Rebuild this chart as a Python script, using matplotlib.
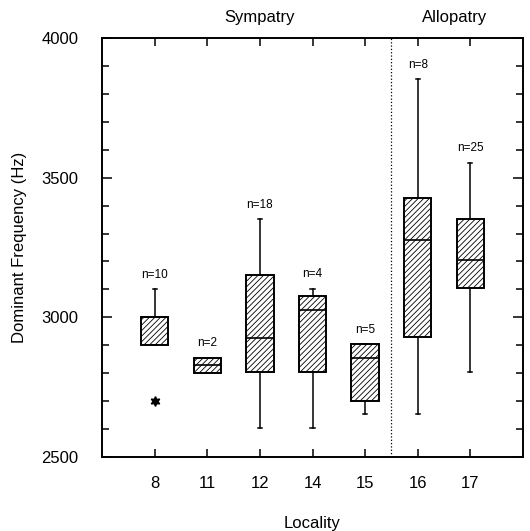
import matplotlib
matplotlib.use('Agg')
import matplotlib.pyplot as plt
from matplotlib.ticker import MultipleLocator

plt.rcParams['font.family'] = ['Liberation Sans', 'DejaVu Sans']
plt.rcParams['hatch.linewidth'] = 0.6

# 자료
localities = ['8', '11', '12', '14', '15', '16', '17']
q1 = [2900, 2800, 2805, 2803, 2702, 2929, 3104]
median = [3000, 2830, 2927, 3026, 2855, 3277, 3205]
q3 = [3000, 2855, 3150, 3077, 2903, 3428, 3352]
whis_lo = [2900, 2800, 2604, 2603, 2653, 2653, 2805]
whis_hi = [3100, 2855, 3351, 3103, 2903, 3853, 3554]
outliers = [[2701], [], [], [], [], [], []]
n_sizes = [10, 2, 18, 4, 5, 8, 25]

stats = []
for i in range(len(localities)):
    stats.append(dict(q1=q1[i], med=median[i], q3=q3[i],
                      whislo=whis_lo[i], whishi=whis_hi[i],
                      fliers=outliers[i]))

fig = plt.figure(figsize=(5.3, 5.31), dpi=100)
ax = fig.add_axes([0.1925, 0.1394, 0.7943, 0.789])

pos = list(range(1, len(localities) + 1))
bp = ax.bxp(stats, positions=pos, widths=0.52, patch_artist=True,
            boxprops=dict(facecolor='white', edgecolor='black', linewidth=1.4, hatch='//////'),
            medianprops=dict(color='black', linewidth=1.2),
            whiskerprops=dict(color='black', linewidth=1.1),
            capprops=dict(color='black', linewidth=1.1),
            capwidths=0.08,
            flierprops=dict(marker=(6, 1, 0), markerfacecolor='black', markeredgecolor='black',
                            markersize=7))

# n= 라벨
for x, top, n in zip(pos, whis_hi, n_sizes):
    ax.annotate(f'n={n}', (x, top), xytext=(0, 6), textcoords='offset points',
                ha='center', va='bottom', fontsize=8.5)

# 동소/이소 구분선
ax.axvline(5.5, color='black', linestyle=':', linewidth=0.9)

ax.set_xlim(0, 8)
ax.set_ylim(2500, 4000)
ax.set_xticks(pos)
ax.set_xticklabels(localities)
ax.yaxis.set_major_locator(MultipleLocator(500))
ax.yaxis.set_minor_locator(MultipleLocator(100))
ax.tick_params(axis='both', which='both', direction='in', top=True, right=True,
               labelsize=12, width=1.1)
ax.tick_params(axis='y', which='major', length=7, pad=17)
ax.tick_params(axis='y', which='minor', length=5)
ax.tick_params(axis='x', which='major', length=6, pad=14)
for s in ax.spines.values():
    s.set_linewidth(1.4)

ax.set_xlabel('Locality', fontsize=12, labelpad=18)
ax.set_ylabel('Dominant Frequency (Hz)', fontsize=12, labelpad=10)

ax.text(3, 1.03, 'Sympatry', transform=ax.get_xaxis_transform(), ha='center',
        va='bottom', fontsize=12)
ax.text(6.7, 1.03, 'Allopatry', transform=ax.get_xaxis_transform(), ha='center',
        va='bottom', fontsize=12)

fig.savefig('out.png', dpi=100)
